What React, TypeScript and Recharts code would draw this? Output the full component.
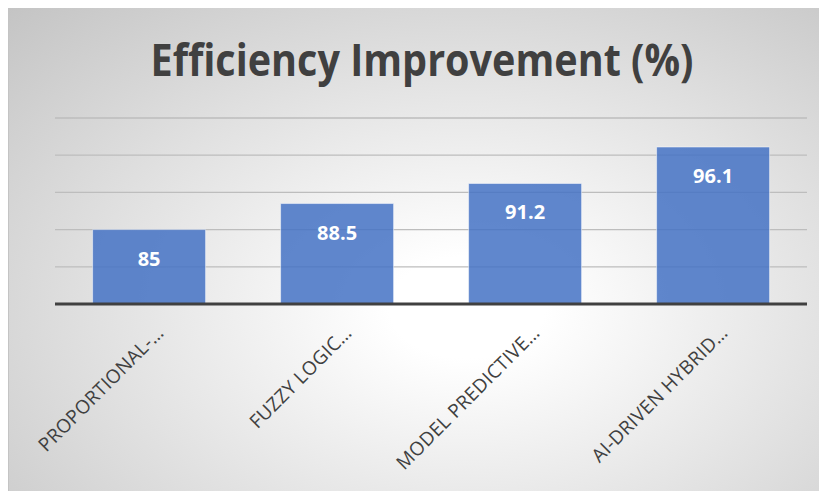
import React from "react";
import { BarChart, Bar, XAxis, YAxis, CartesianGrid, LabelList } from "recharts";

const categories = [
  "PROPORTIONAL-…",
  "FUZZY LOGIC…",
  "MODEL PREDICTIVE…",
  "AI-DRIVEN HYBRID…",
];
const efficiency = [85, 88.5, 91.2, 96.1];
const yTicks = [75, 80, 85, 90, 95, 100];
const title = "Efficiency Improvement (%)";

const data = categories.map((name, i) => ({ name, value: efficiency[i] }));

const W = 819;
const H = 484;

const AngledTick = (props: any) => {
  const { x, y, payload } = props;
  const ax = x + 16;
  const ay = y + 22;
  return (
    <text
      x={ax}
      y={ay}
      textAnchor="end"
      transform={`rotate(-45, ${ax}, ${ay})`}
      fill="#404040"
      fontSize={19}
      letterSpacing={0.3}
      fontFamily="'Open Sans', sans-serif"
    >
      {payload.value}
    </text>
  );
};

const BarValue = (props: any) => {
  const { x, y, width, value } = props;
  return (
    <text
      x={x + width / 2}
      y={y + 36}
      textAnchor="middle"
      fill="#ffffff"
      fontSize={20}
      fontWeight="bold"
      fontFamily="'Open Sans', sans-serif"
    >
      {value}
    </text>
  );
};

export default function App() {
  return (
    <div
      style={{
        position: "relative",
        width: W,
        height: H,
        marginTop: -1,
        boxSizing: "border-box",
        borderTop: "1px solid #c4c4c4",
        borderLeft: "1px solid #c4c4c4",
        background:
          "radial-gradient(ellipse farthest-corner at 56% 62%, #ffffff 0%, #ffffff 12%, #c4c4c4 100%)",
      }}
    >
      <svg
        width={W}
        height={100}
        style={{ position: "absolute", left: 0, top: 0 }}
      >
        <text
          x={413}
          y={68}
          textAnchor="middle"
          fill="#404040"
          fontSize={44}
          fontWeight="bold"
          fontFamily="'Open Sans', sans-serif"
          textLength={543}
          lengthAdjust="spacingAndGlyphs"
        >
          {title}
        </text>
      </svg>
      <div style={{ position: "absolute", left: -1, top: -1 }}>
        <BarChart
          width={W}
          height={H}
          data={data}
          margin={{ top: 111, right: 20, bottom: 0, left: 47 }}
          barCategoryGap="20%"
        >
          <CartesianGrid vertical={false} stroke="#bdbdbd" strokeWidth={1.3} />
          <YAxis hide domain={[75, 100]} ticks={yTicks} allowDataOverflow />
          <XAxis
            dataKey="name"
            height={187}
            axisLine={{ stroke: "#404040", strokeWidth: 3 }}
            tickLine={false}
            interval={0}
            tick={<AngledTick />}
          />
          <Bar
            dataKey="value"
            fill="#4472C4"
            fillOpacity={0.85}
            stroke="#ffffff"
            strokeOpacity={0.5}
            isAnimationActive={false}
          >
            <LabelList dataKey="value" content={<BarValue />} />
          </Bar>
        </BarChart>
      </div>
    </div>
  );
}
